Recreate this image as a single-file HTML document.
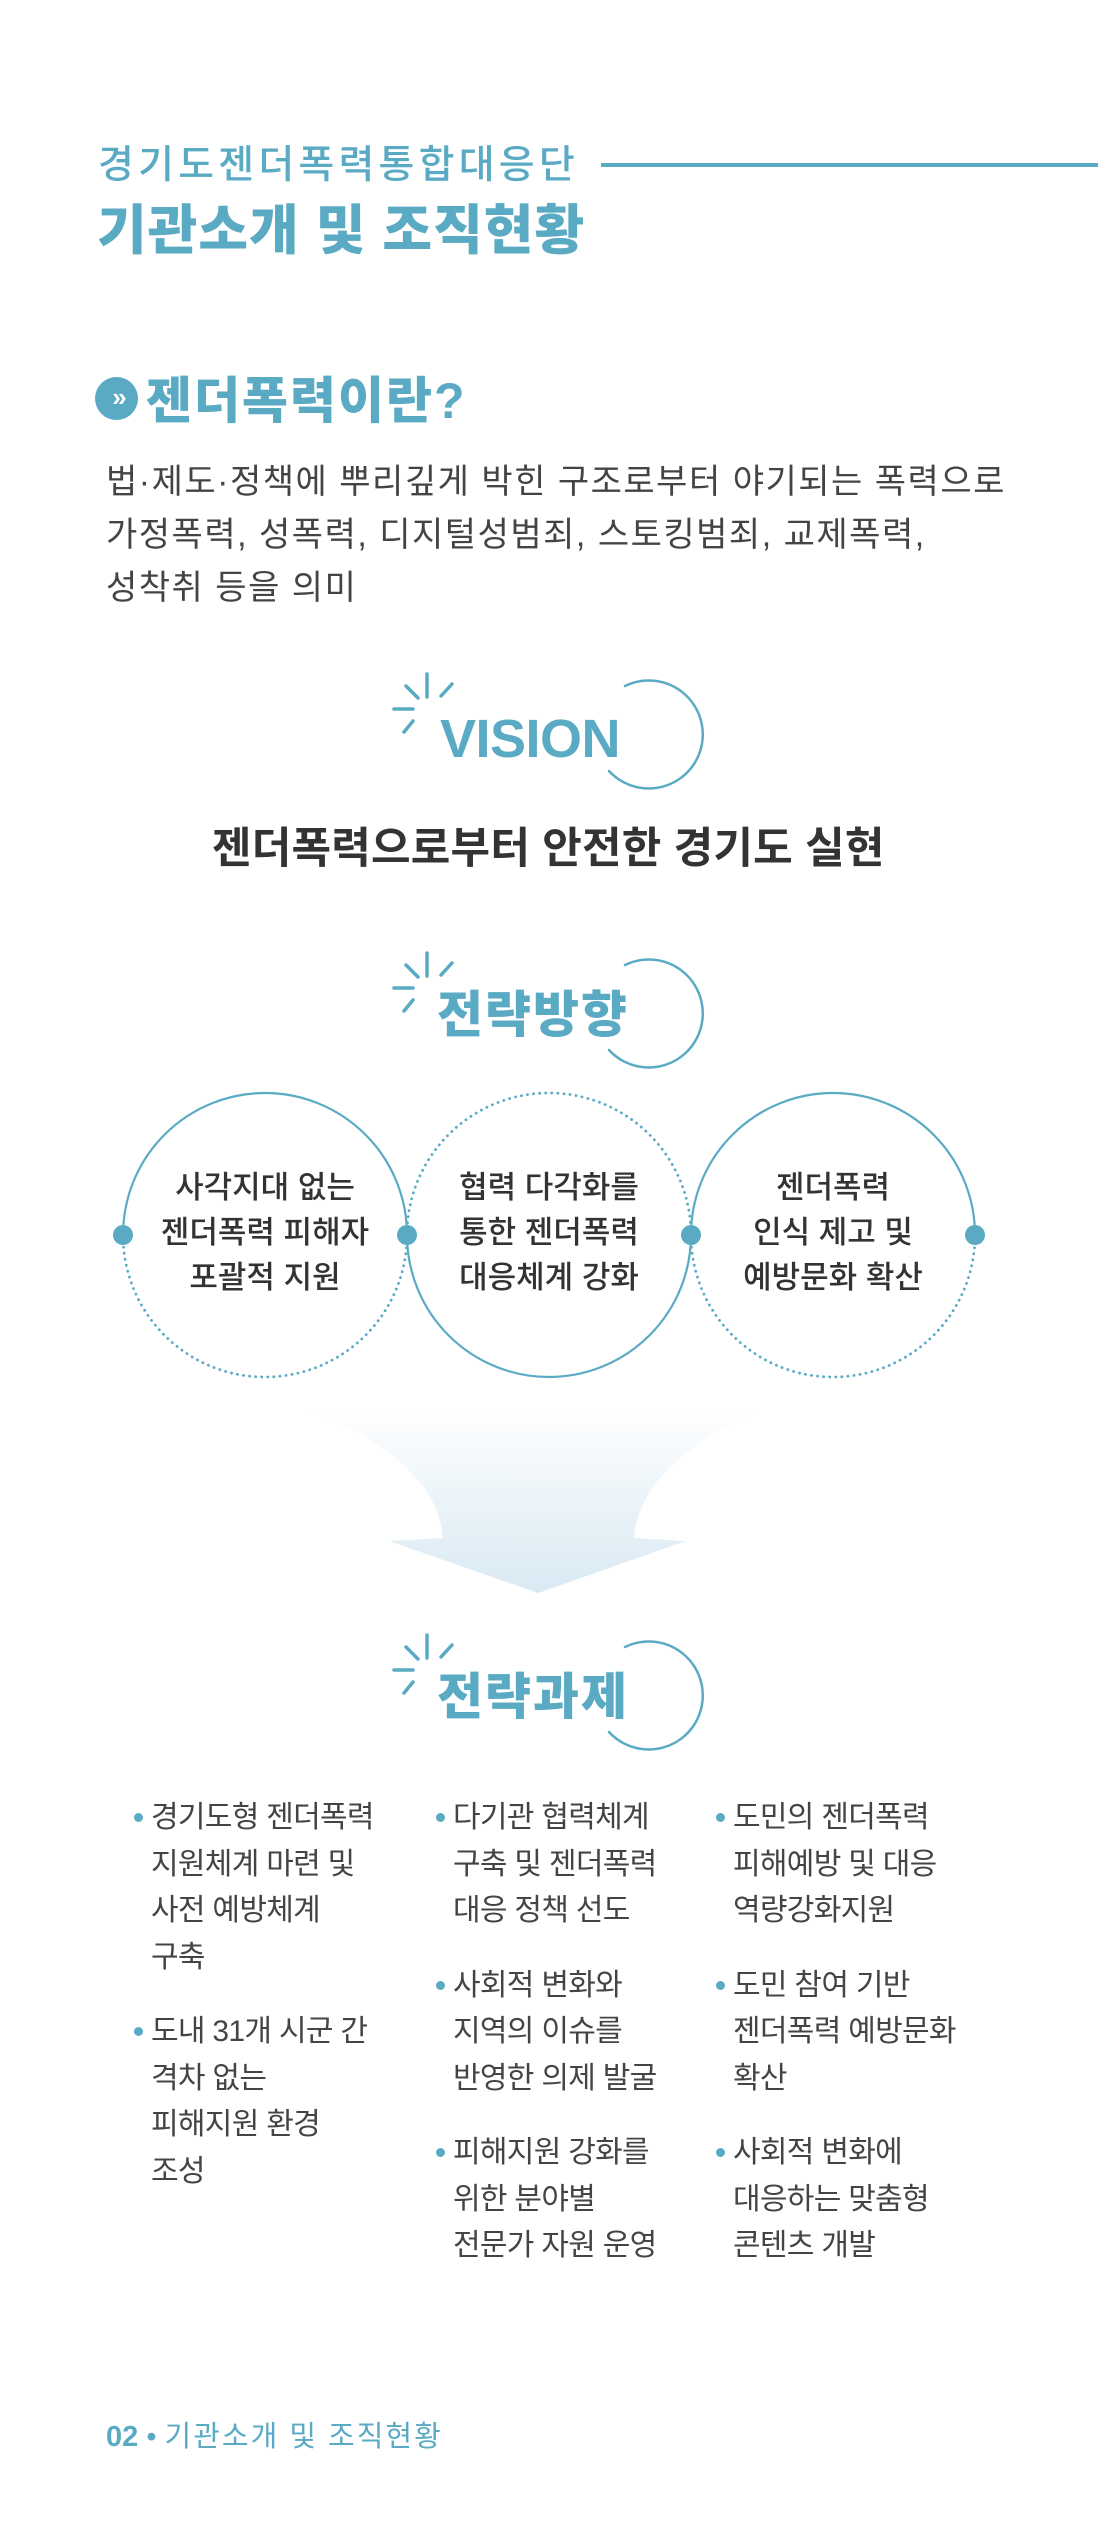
<!DOCTYPE html>
<html><head><meta charset="utf-8">
<style>
html,body{margin:0;padding:0;background:#fff;}
body{width:1098px;height:2539px;position:relative;overflow:hidden;font-family:"Liberation Sans","Noto Sans CJK KR",sans-serif;}
.t{position:absolute;white-space:nowrap;line-height:1;}
.blue{color:#5aaac4;}
.ctext{position:absolute;width:284px;text-align:center;font-size:31px;letter-spacing:0px;color:#333;font-weight:500;line-height:45px;}
.col{position:absolute;font-size:30px;letter-spacing:-0.7px;color:#444;line-height:46.5px;}
.item{position:relative;padding-left:17px;margin-bottom:28px;}
.item:before{content:"";position:absolute;left:0;top:18px;width:9px;height:9px;border-radius:50%;background:#5aaac4;}
</style></head><body>

<div class="t blue" style="left:98px;top:146px;font-size:39px;letter-spacing:4.2px;font-weight:500;">경기도젠더폭력통합대응단</div>
<div style="position:absolute;left:601px;top:163px;width:497px;height:4px;background:#5aaac4;"></div>
<div class="t blue" style="left:97px;top:204px;font-size:54px;letter-spacing:1px;font-weight:900;">기관소개 및 조직현황</div>

<div style="position:absolute;left:95px;top:377px;width:43px;height:43px;border-radius:50%;background:#5aaac4;color:#fff;font-size:26px;font-weight:900;text-align:center;line-height:41px;letter-spacing:-6px;">»</div>
<div class="t blue" style="left:146px;top:376px;font-size:50px;letter-spacing:2px;font-weight:900;">젠더폭력이란?</div>

<div class="t" style="left:106px;top:456px;font-size:34px;letter-spacing:1.5px;color:#444;line-height:53px;">법·제도·정책에 뿌리깊게 박힌 구조로부터 야기되는 폭력으로<br>가정폭력, 성폭력, 디지털성범죄, 스토킹범죄, 교제폭력,<br>성착취 등을 의미</div>

<svg width="1098" height="2539" style="position:absolute;left:0;top:0;" xmlns="http://www.w3.org/2000/svg">
<defs>
<g id="spark" stroke="#5aaac4" stroke-width="3.5" stroke-linecap="round" fill="none">
<line x1="427" y1="674" x2="427" y2="697"/>
<line x1="406" y1="686" x2="418" y2="698"/>
<line x1="452" y1="684" x2="441" y2="696"/>
<line x1="394" y1="709" x2="413" y2="709"/>
<line x1="404" y1="732" x2="413" y2="721"/>
<path d="M625,686 A54,54 0 1 1 609,771" stroke-width="2.5"/>
</g>
<linearGradient id="ag" x1="0" y1="0" x2="0" y2="1">
<stop offset="0" stop-color="#ffffff"/>
<stop offset="1" stop-color="#d9e9f3"/>
</linearGradient>
</defs>
<use href="#spark"/>
<use href="#spark" transform="translate(0,279)"/>
<use href="#spark" transform="translate(0,961)"/>

<g fill="none" stroke="#5aaac4" stroke-width="2.2">
<path d="M123,1235 A142,142 0 0 1 407,1235"/>
<path d="M123,1235 A142,142 0 0 0 407,1235" stroke-dasharray="0.1 6" stroke-linecap="round" stroke-width="2.8"/>
<path d="M407,1235 A142,142 0 0 1 691,1235" stroke-dasharray="0.1 6" stroke-linecap="round" stroke-width="2.8"/>
<path d="M407,1235 A142,142 0 0 0 691,1235"/>
<path d="M691,1235 A142,142 0 0 1 975,1235"/>
<path d="M691,1235 A142,142 0 0 0 975,1235" stroke-dasharray="0.1 6" stroke-linecap="round" stroke-width="2.8"/>
</g>
<g fill="#5aaac4">
<circle cx="123" cy="1235" r="10"/>
<circle cx="407" cy="1235" r="10"/>
<circle cx="691" cy="1235" r="10"/>
<circle cx="975" cy="1235" r="10"/>
</g>

<path d="M301,1406 L770,1406 Q640,1460 634,1538 L686,1541 L538,1593 L389,1541 L443,1538 Q437,1460 301,1406 Z" fill="url(#ag)"/>
</svg>

<div class="t blue" style="left:440px;top:712px;font-size:54px;letter-spacing:-0.5px;font-weight:700;font-family:'Liberation Sans',sans-serif;">VISION</div>
<div class="t" style="left:212px;top:828px;font-size:43px;letter-spacing:0.2px;font-weight:700;color:#333;">젠더폭력으로부터 안전한 경기도 실현</div>
<div class="t blue" style="left:437px;top:990px;font-size:50px;letter-spacing:2px;font-weight:900;">전략방향</div>

<div class="ctext" style="left:123px;top:1165px;">사각지대 없는<br>젠더폭력 피해자<br>포괄적 지원</div>
<div class="ctext" style="left:407px;top:1165px;">협력 다각화를<br>통한 젠더폭력<br>대응체계 강화</div>
<div class="ctext" style="left:691px;top:1165px;">젠더폭력<br>인식 제고 및<br>예방문화 확산</div>

<div class="t blue" style="left:437px;top:1672px;font-size:50px;letter-spacing:2px;font-weight:900;">전략과제</div>

<div class="col" style="left:134px;top:1795px;">
<div class="item">경기도형 젠더폭력<br>지원체계 마련 및<br>사전 예방체계<br>구축</div>
<div class="item">도내 31개 시군 간<br>격차 없는<br>피해지원 환경<br>조성</div>
</div>
<div class="col" style="left:436px;top:1795px;">
<div class="item">다기관 협력체계<br>구축 및 젠더폭력<br>대응 정책 선도</div>
<div class="item">사회적 변화와<br>지역의 이슈를<br>반영한 의제 발굴</div>
<div class="item">피해지원 강화를<br>위한 분야별<br>전문가 자원 운영</div>
</div>
<div class="col" style="left:716px;top:1795px;">
<div class="item">도민의 젠더폭력<br>피해예방 및 대응<br>역량강화지원</div>
<div class="item">도민 참여 기반<br>젠더폭력 예방문화<br>확산</div>
<div class="item">사회적 변화에<br>대응하는 맞춤형<br>콘텐츠 개발</div>
</div>

<div class="t blue" style="left:106px;top:2423px;font-size:29px;"><b style="font-family:'Liberation Sans',sans-serif;">02</b> • <span style="letter-spacing:2px;">기관소개 및 조직현황</span></div>
</body></html>
